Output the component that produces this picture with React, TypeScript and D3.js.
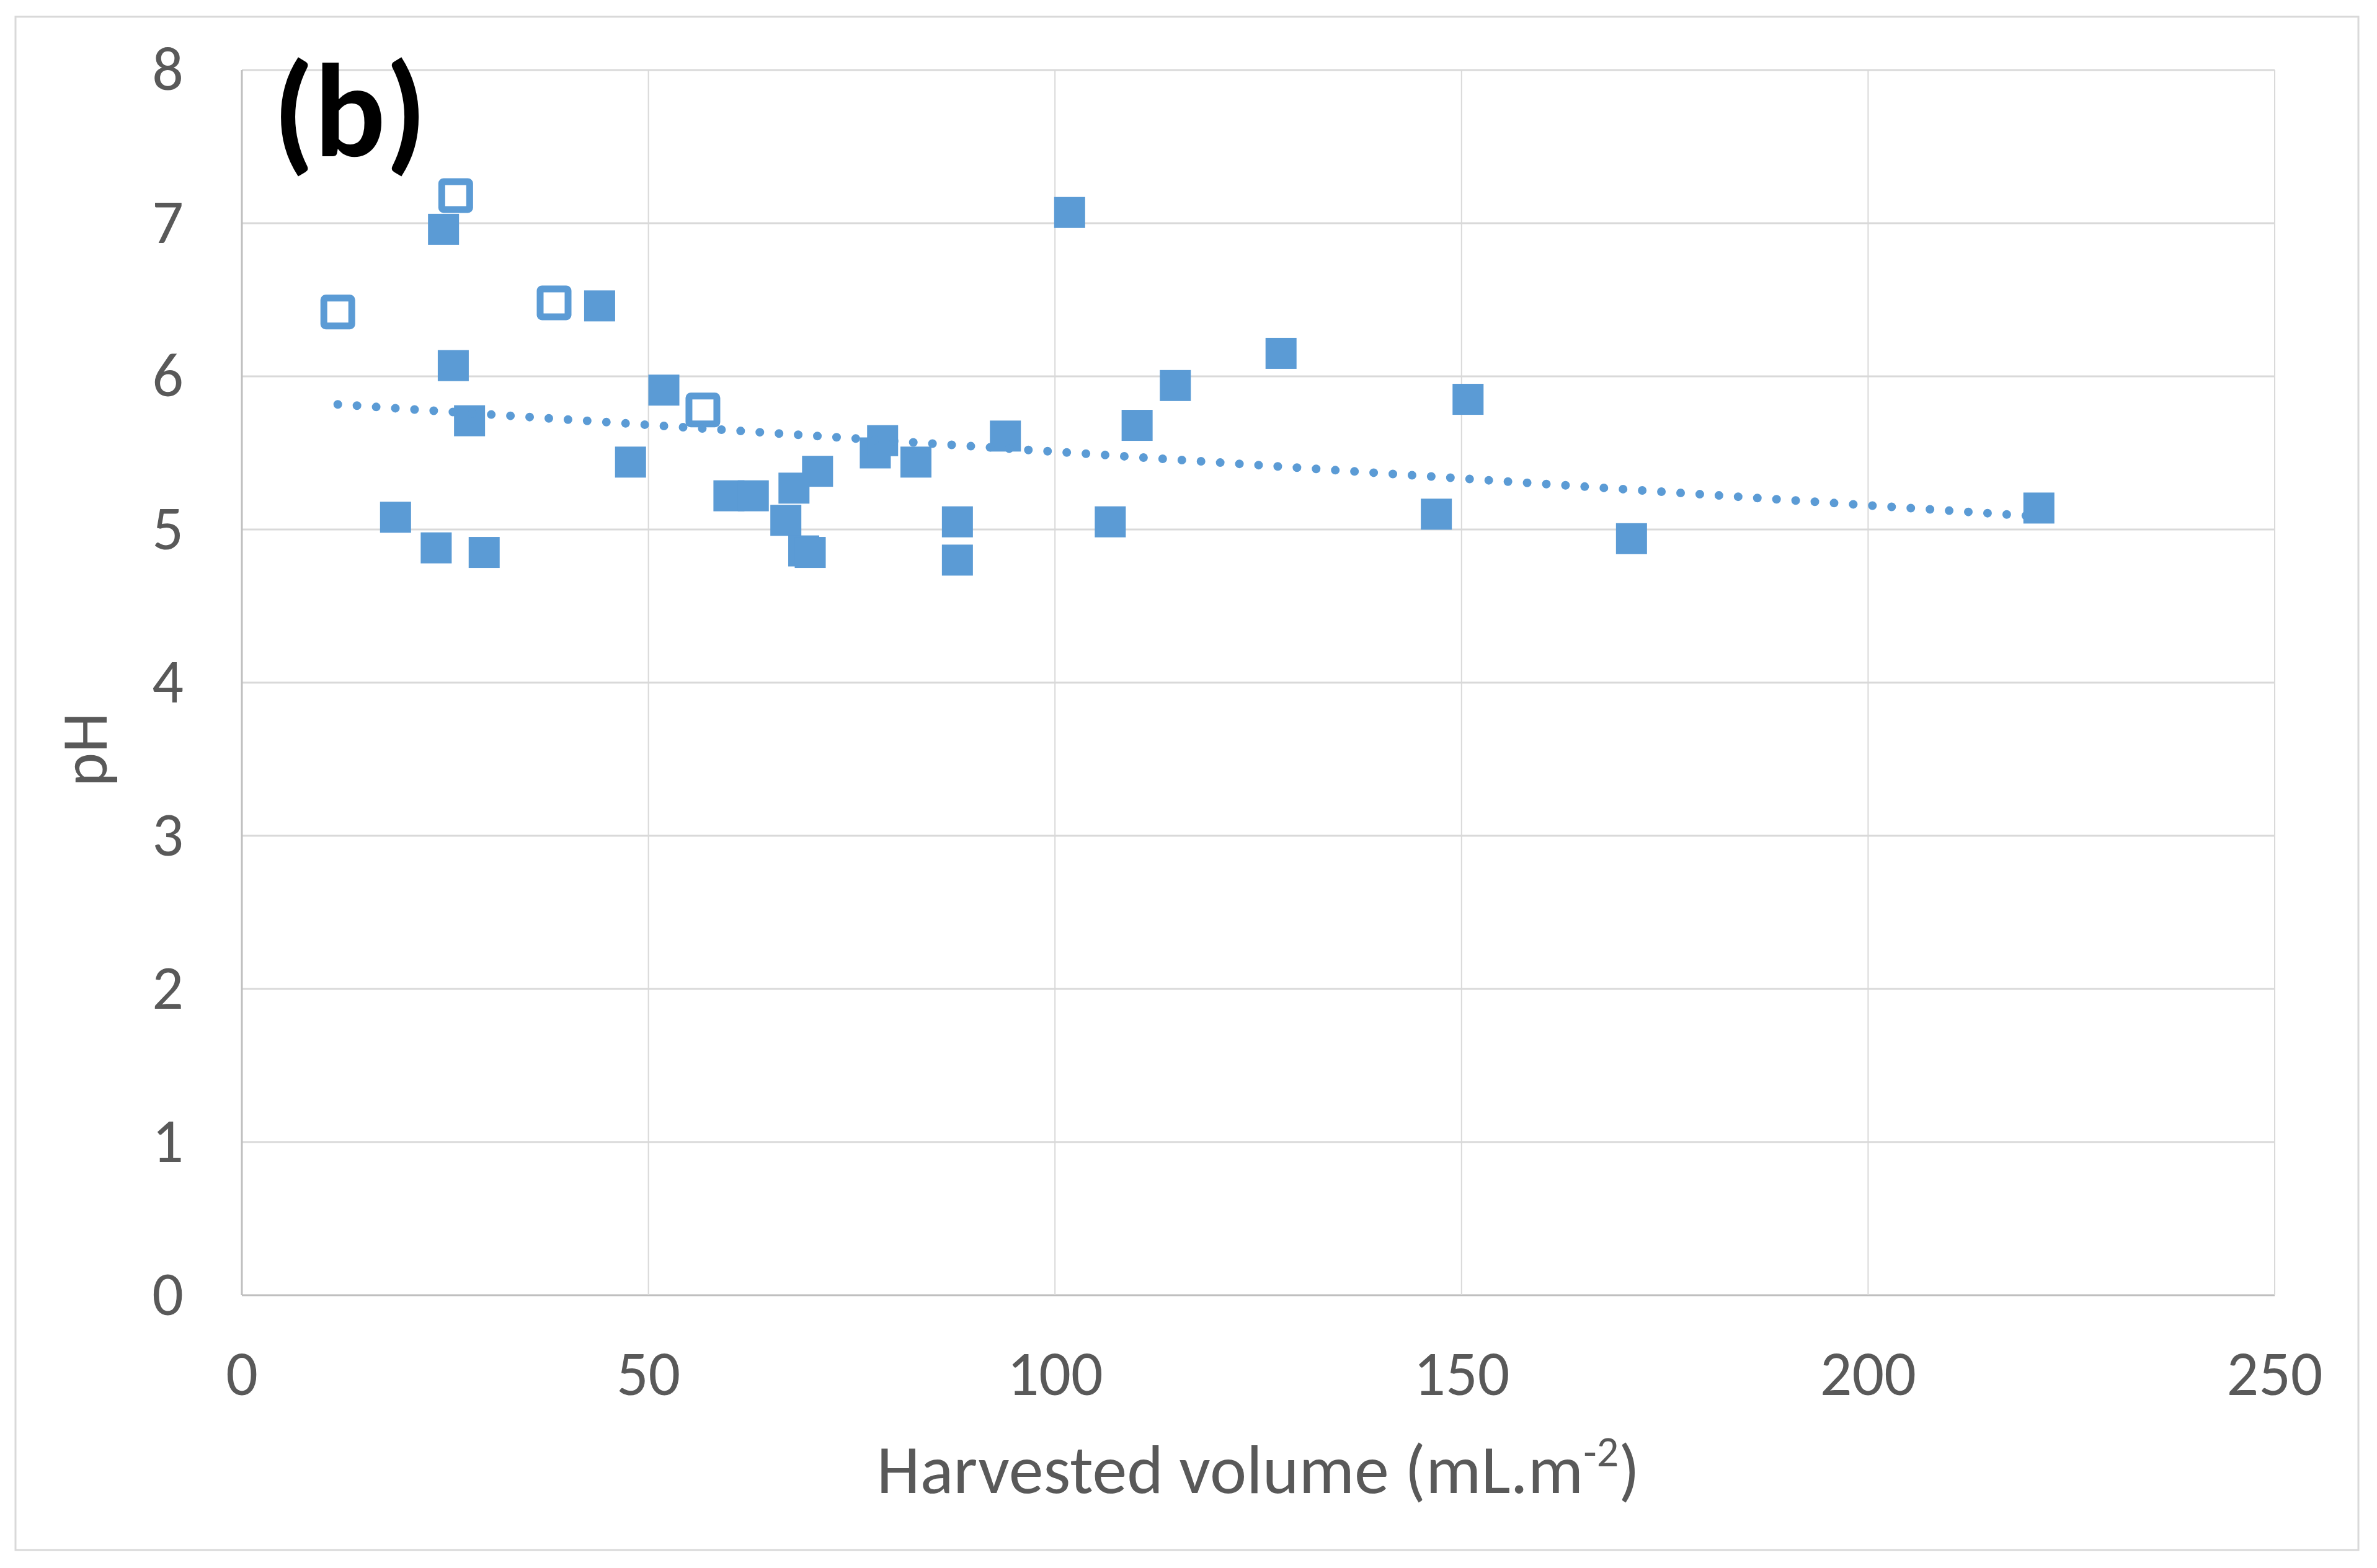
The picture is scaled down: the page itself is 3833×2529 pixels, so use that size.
import * as d3 from 'd3';

// pH vs harvested volume
const hollowX = [11.8, 26.3, 38.4, 56.7];
const hollowY = [6.42, 7.18, 6.48, 5.78];

const filledX = [18.9, 23.9, 24.8, 26.0, 28.0, 29.8, 44.0, 47.8, 51.9, 59.9, 62.9, 66.9, 67.9, 69.1, 69.9, 70.8, 77.9, 78.8, 82.9, 88.0, 88.0, 93.9, 101.8, 106.8, 110.1, 114.8, 127.8, 146.9, 150.8, 170.9, 221.0];
const filledY = [5.08, 4.88, 6.96, 6.07, 5.71, 4.85, 6.46, 5.44, 5.91, 5.22, 5.22, 5.06, 5.27, 4.86, 4.85, 5.38, 5.50, 5.58, 5.44, 5.05, 4.80, 5.61, 7.07, 5.05, 5.68, 5.94, 6.15, 5.10, 5.85, 4.94, 5.14];

// linear trendline as shown in the chart
const trendIntercept = 5.858;
const trendSlope = -0.0035;

const xTicks = [0, 50, 100, 150, 200, 250];
const yTicks = [0, 1, 2, 3, 4, 5, 6, 7, 8];

const W = 3833;
const H = 2529;
const plot = { left: 390, right: 3668, top: 113, bottom: 2089 };

const BLUE = '#5B9BD5';
const TEXT = '#595959';
const FONT = "Carlito, Calibri, 'Liberation Sans', Arial, sans-serif";

export default function App() {
  const x = d3.scaleLinear().domain([0, 250]).range([plot.left, plot.right]);
  const y = d3.scaleLinear().domain([0, 8]).range([plot.bottom, plot.top]);

  const allX = [...hollowX, ...filledX];
  const [x0, x1] = d3.extent(allX) as [number, number];
  const trendPts: [number, number][] = [x0, x1].map((v) => [v, trendIntercept + trendSlope * v]);
  const trendLine = d3
    .line<[number, number]>()
    .x((d) => x(d[0]))
    .y((d) => y(d[1]));

  const filled = filledX.map((v, i) => ({ x: v, y: filledY[i] }));
  const hollow = hollowX.map((v, i) => ({ x: v, y: hollowY[i] }));

  const fs = 50; // filled marker size
  const hs = 45; // hollow marker size (stroke adds on top)

  return (
    <svg
      width={W}
      height={H}
      style={{ position: 'absolute', left: 0, top: 0, background: '#fff' }}
      fontFamily={FONT}
    >
      <rect x={0} y={0} width={W} height={H} fill="#fff" />
      {/* chart border */}
      <rect x={25} y={27} width={3778} height={2473} fill="none" stroke="#D9D9D9" strokeWidth={3} />

      {/* gridlines */}
      {yTicks.map((t) => (
        <line
          key={'gy' + t}
          x1={plot.left}
          x2={plot.right}
          y1={y(t)}
          y2={y(t)}
          stroke={t === 0 ? '#BFBFBF' : '#D9D9D9'}
          strokeWidth={3}
        />
      ))}
      {xTicks.map((t) => (
        <line
          key={'gx' + t}
          x1={x(t)}
          x2={x(t)}
          y1={plot.top}
          y2={plot.bottom}
          stroke={t === 0 ? '#BFBFBF' : '#D9D9D9'}
          strokeWidth={t === 0 ? 3 : 2}
        />
      ))}

      {/* tick labels */}
      {yTicks.map((t) => (
        <text key={'ty' + t} x={296} y={y(t) + 32} textAnchor="end" fontSize={100} fill={TEXT}>
          {t}
        </text>
      ))}
      {xTicks.map((t) => (
        <text key={'tx' + t} x={x(t)} y={2250} textAnchor="middle" fontSize={102} fill={TEXT}>
          {t}
        </text>
      ))}

      {/* axis titles */}
      <text x={(plot.left + plot.right) / 2} y={2408} textAnchor="middle" fontSize={112} fill={TEXT}>
        Harvested volume (mL.m
        <tspan baselineShift="super" fontSize={70}>-2</tspan>)
      </text>
      <text
        transform={`translate(172, 1209) rotate(-90)`}
        textAnchor="middle"
        fontSize={104}
        fill={TEXT}
      >
        pH
      </text>

      {/* panel label */}
      <text x={440} y={252} fontSize={214} fontWeight="bold" fill="#000">
        (b)
      </text>

      {/* filled markers */}
      {filled.map((d, i) => (
        <rect key={'f' + i} x={x(d.x) - fs / 2} y={y(d.y) - fs / 2} width={fs} height={fs} fill={BLUE} />
      ))}

      {/* hollow markers */}
      {hollow.map((d, i) => (
        <rect
          key={'h' + i}
          x={x(d.x) - hs / 2}
          y={y(d.y) - hs / 2}
          width={hs}
          height={hs}
          rx={3}
          fill="#fff"
          stroke={BLUE}
          strokeWidth={11}
        />
      ))}

      {/* dotted trendline */}
      <path
        d={trendLine(trendPts) ?? ''}
        fill="none"
        stroke={BLUE}
        strokeWidth={14}
        strokeLinecap="round"
        strokeDasharray="0 31"
      />
    </svg>
  );
}
